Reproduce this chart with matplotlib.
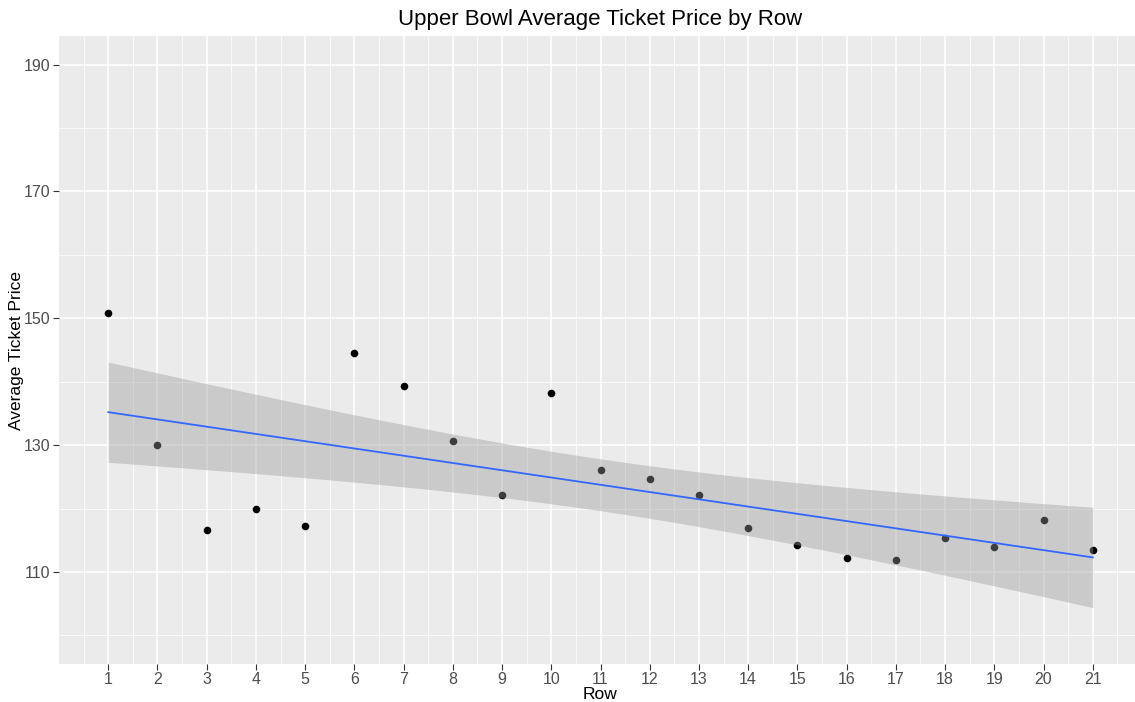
import matplotlib
matplotlib.use("Agg")
import matplotlib.pyplot as plt
import numpy as np

plt.rcParams['font.family'] = ['Liberation Sans', 'DejaVu Sans']

rows = np.arange(1, 22)
avg_price = np.array([
    150.8, 130.0, 116.7, 119.9, 117.2, 144.5, 139.3, 130.7, 122.2, 138.3,
    126.1, 124.7, 122.1, 116.9, 114.3, 112.2, 111.9, 115.4, 113.9, 118.2, 113.5
])
y_ticks = [110, 130, 150, 170, 190]
title = "Upper Bowl Average Ticket Price by Row"

# linear fit + 95% confidence band, like geom_smooth(method = "lm")
t_crit = 2.093  # t(0.975, df = 19)
slope, intercept = np.polyfit(rows, avg_price, 1)
resid = avg_price - (slope * rows + intercept)
n = len(rows)
s = np.sqrt(np.sum(resid ** 2) / (n - 2))
xs = np.linspace(rows.min(), rows.max(), 80)
fit = slope * xs + intercept
se = s * np.sqrt(1 / n + (xs - rows.mean()) ** 2 / np.sum((rows - rows.mean()) ** 2))

fig = plt.figure(figsize=(11.35, 7.02), dpi=100)
ax = fig.add_axes([59 / 1135, 38 / 702, 1083 / 1135, 628 / 702])
ax.set_facecolor('#EBEBEB')

ax.scatter(rows, avg_price, s=30, color='black', zorder=3, linewidths=0)
ax.fill_between(xs, fit - t_crit * se, fit + t_crit * se, color='#999999', alpha=0.4,
                linewidth=0, zorder=4)
ax.plot(xs, fit, color='#3366FF', linewidth=1.3, zorder=5)

ax.set_xlim(0, 22)
ax.set_ylim(95.5, 194.5)
ax.set_xticks(rows)
ax.set_xticks(np.arange(0.5, 22, 1), minor=True)
ax.set_yticks(y_ticks)
ax.set_yticks([100, 120, 140, 160, 180], minor=True)

ax.grid(True, which='major', color='white', linewidth=1.1, zorder=0)
ax.grid(True, which='minor', color='white', linewidth=0.55, zorder=0)
ax.set_axisbelow(True)
for sp in ax.spines.values():
    sp.set_visible(False)

ax.tick_params(which='major', length=4, width=0.8, color='#333333', labelcolor='#4D4D4D',
               labelsize=11.5, pad=2)
ax.tick_params(which='minor', length=0)

ax.set_xlabel("Row", fontsize=12.5, color='black', labelpad=0)
ax.set_ylabel("Average Ticket Price", fontsize=12.5, color='black')
ax.yaxis.set_label_coords(-35 / 1083, 0.5)
fig.text(600 / 1135, 1 - 20 / 702, title, fontsize=16, ha='center', va='center', color='black')

fig.savefig("out.png", dpi=100)
